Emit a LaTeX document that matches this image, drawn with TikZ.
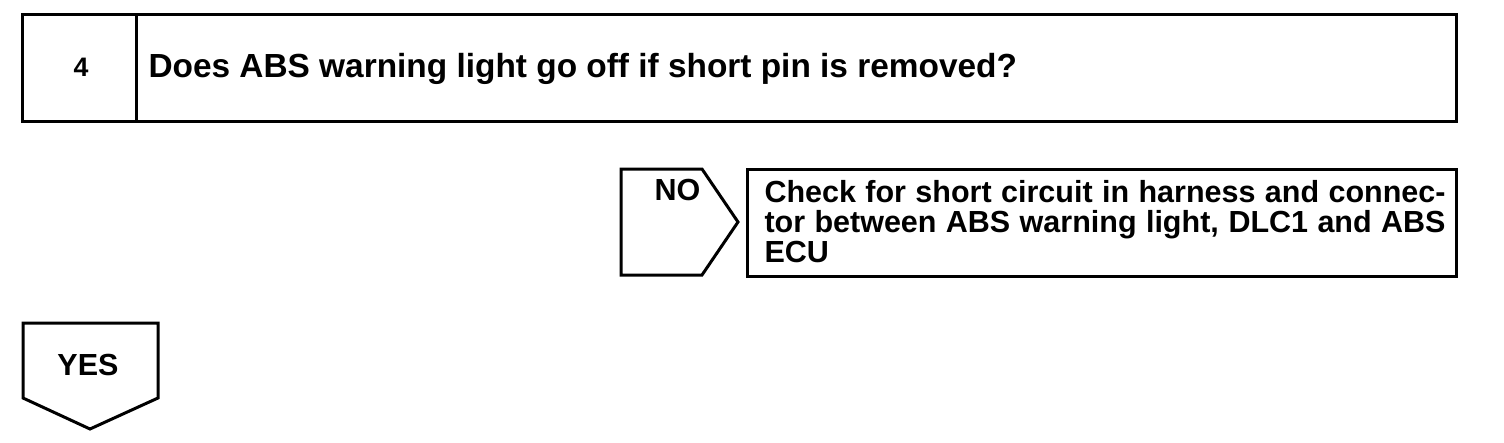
\documentclass[tikz,border=0pt]{standalone}
\usepackage{fontspec}
\setmainfont{Liberation Sans}
\begin{document}
\begin{tikzpicture}[x=1pt,y=-1pt,line width=3pt,line join=miter,
  txt/.style={inner sep=0pt,font=\bfseries\fontsize{30.5}{30}\selectfont},
  bigtxt/.style={inner sep=0pt,font=\bfseries\fontsize{33.4}{36}\selectfont}]
\useasboundingbox (0,0) rectangle (1504,442);
% question box
\coordinate (qtl) at (22,14);
\coordinate (qbr) at (1456,121);
\draw (qtl) rectangle (qbr);
\draw (136,14) -- (136,121);
\node[bigtxt,anchor=base] (num) at (81,76) {\scalebox{0.8}{4}};
\node[bigtxt,anchor=base west] (q) at (147,77) {Does ABS warning light go off if short pin is removed?};
% NO arrow
\draw (621,169) -- (702,169) -- (738,222) -- (702,275) -- (621,275) -- cycle;
\node[txt,anchor=base west] (no) at (653,200) {NO};
% result box
\draw (747,169) rectangle (1456,276);
\node[txt,anchor=base west] (chk1) at (763,202) {\makebox[681pt][s]{Check for short circuit in harness and connec-}};
\node[txt,anchor=base west] (chk2) at (763,232) {\makebox[681pt][s]{tor between ABS warning light, DLC1 and ABS}};
\node[txt,anchor=base west] (chk3) at (763,262) {ECU};
% YES arrow
\draw (23,323) -- (158,323) -- (158,398) -- (90,429) -- (23,398) -- cycle;
\node[txt,anchor=base] (yes) at (88,375) {YES};
\end{tikzpicture}
\end{document}
